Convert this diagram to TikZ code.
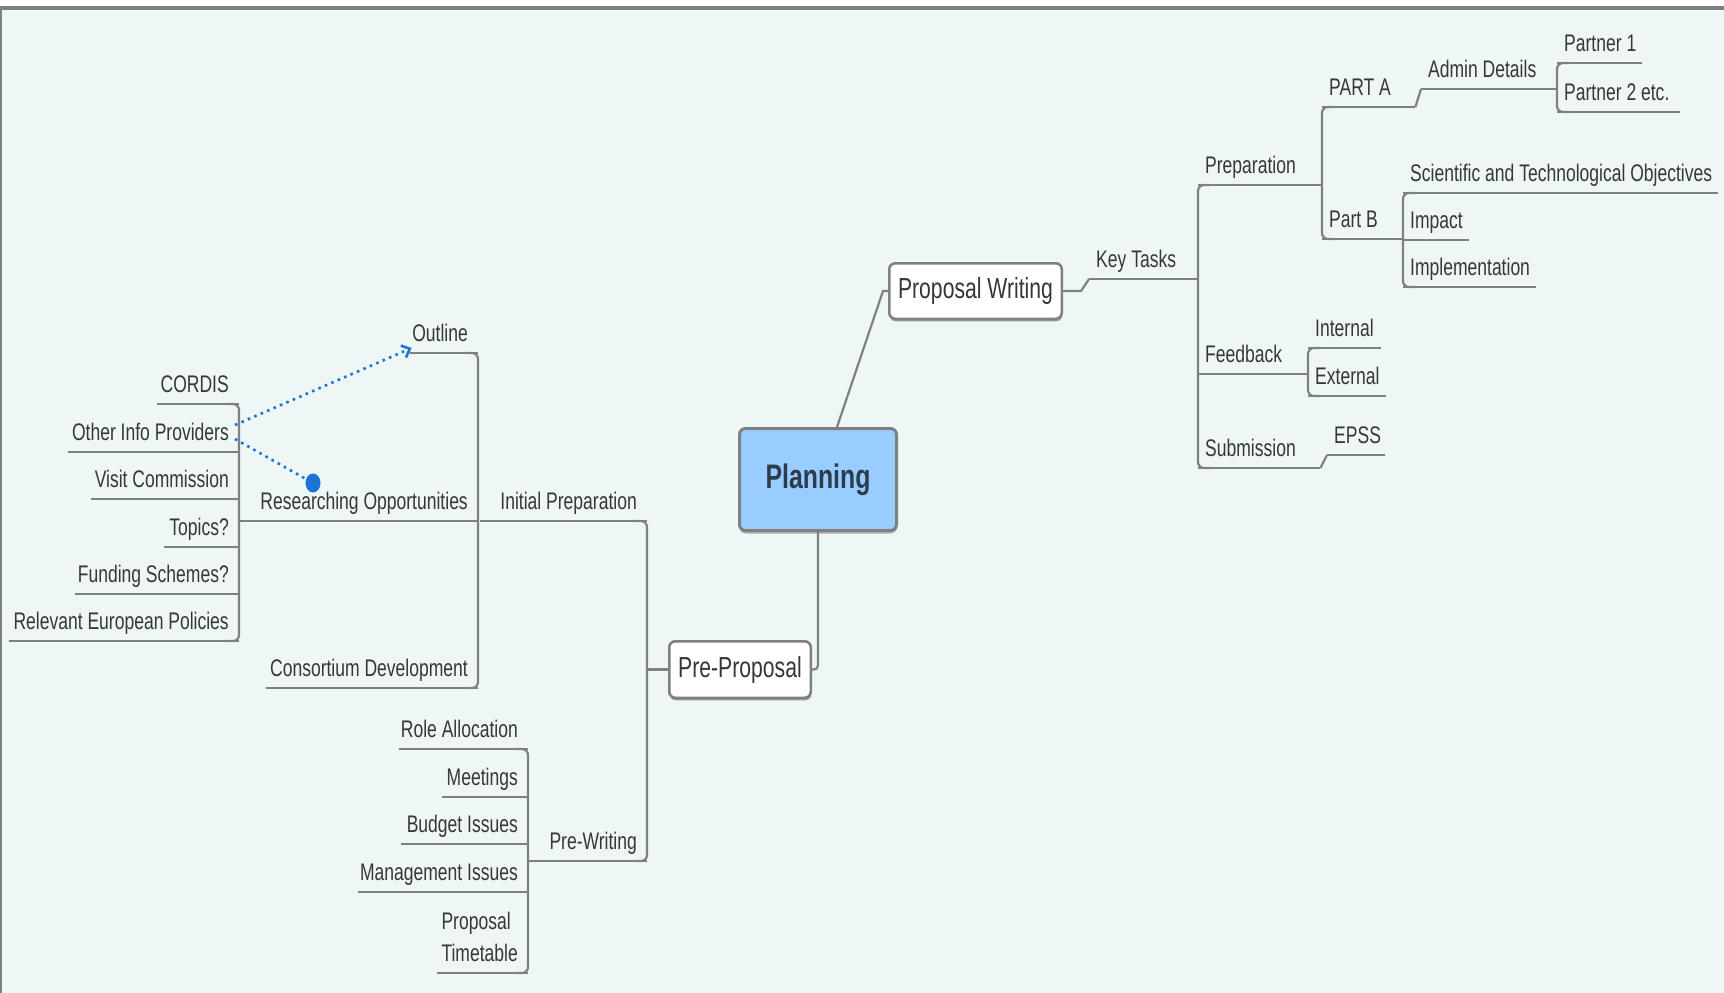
\documentclass[tikz,border=0pt]{standalone}
\usepackage{fontspec}
\setmainfont{Liberation Sans}[FakeStretch=0.73]
\usetikzlibrary{arrows.meta,shadows,shapes.geometric}

\definecolor{bgc}{RGB}{238,247,245}
\definecolor{lnc}{RGB}{128,128,128}
\definecolor{txc}{RGB}{55,55,55}
\definecolor{plc}{RGB}{153,204,255}
\definecolor{dtc}{RGB}{30,115,215}
\definecolor{ptc}{RGB}{45,60,75}

\newcommand\lblfont{\fontsize{24}{32}\selectfont}
\newcommand\boxfont{\fontsize{29}{34}\selectfont}
\newcommand\hubfont{\fontsize{34}{40}\selectfont\bfseries}

\tikzset{
  link/.style={draw=lnc, line width=2.2pt},
  uline/.style={draw=lnc, line width=2.8pt},
  dots/.style={draw=dtc, line width=2.6pt, dash pattern=on 2.6pt off 4.4pt},
  topic/.style={font=\lblfont, text=txc, inner sep=0pt, text height=17pt, text depth=11pt},
  % topic on the right-hand side: text starts just after the junction
  rt/.style={topic, anchor=south west,
    execute at begin node={\hbox to #1pt\bgroup\hskip7pt},
    execute at end node={\hss\egroup}},
  % topic on the left-hand side: text ends just before the junction
  lt/.style={topic, anchor=south east,
    execute at begin node={\hbox to #1pt\bgroup\hss},
    execute at end node={\hskip10pt\egroup}},
  box/.style={draw=lnc, line width=2.5pt, fill=white, rounded corners=6pt,
    font=\boxfont, text=txc, inner sep=0pt,
    drop shadow={shadow xshift=0.5pt, shadow yshift=-2.5pt, fill=lnc!80, opacity=1}},
  hub/.style={box, fill=plc, font=\hubfont, text=ptc, line width=3pt,
    drop shadow={shadow xshift=0pt, shadow yshift=-3pt, fill=lnc!60, opacity=1}},
}

\begin{document}
\begin{tikzpicture}[x=1pt,y=-1pt]
\useasboundingbox (0,0) rectangle (1724,993);

% canvas and frame
\fill[bgc] (0,0) rectangle (1724,993);
\fill[white] (0,0) rectangle (1724,6);
\fill[lnc] (0,6) rectangle (1724,10);
\fill[lnc] (0,6) rectangle (2,993);

% main boxes
\node[hub, minimum width=157pt, minimum height=102pt] (plan) at (818,479.5) {Planning};
\node[box, minimum width=172.5pt, minimum height=55.5pt] (pw) at (975.5,291) {Proposal Writing};
\node[box, minimum width=141.5pt, minimum height=56.5pt] (pp) at (740,669.5) {Pre-Proposal};

% right-hand branch: Proposal Writing
\node[rt=109] (kt) at (1089,279) {Key Tasks};
\node[rt=124] (prep) at (1198,185) {Preparation};
\node[rt=110] (feed) at (1198,374) {Feedback};
\node[rt=122] (subm) at (1198,468) {Submission};
\node[rt=58] (epss) at (1327,455) {EPSS};
\node[rt=73] (int) at (1308,348) {Internal};
\node[rt=78] (ext) at (1308,396) {External};
\node[rt=93] (parta) at (1322,107) {PART A};
\node[rt=81] (partb) at (1322,239) {Part B};
\node[rt=136] (admin) at (1421,89) {Admin Details};
\node[rt=85] (p1) at (1557,63) {Partner 1};
\node[rt=123] (p2) at (1557,112) {Partner 2 etc.};
\node[rt=315] (sci) at (1403,193) {Scientific and Technological Objectives};
\node[rt=66] (imp) at (1403,240) {Impact};
\node[rt=133] (impl) at (1403,287) {Implementation};

% left-hand branch: Pre-Proposal
\node[lt=167] (ip) at (647,521) {Initial Preparation};
\node[lt=119] (pwr) at (647,861) {Pre-Writing};
\node[lt=68] (ol) at (478,353) {Outline};
\node[lt=238] (ro) at (478,521) {Researching Opportunities};
\node[lt=212] (cd) at (478,688) {Consortium Development};
\node[lt=82] (cordis) at (239,404) {CORDIS};
\node[lt=171] (oip) at (239,452) {Other Info Providers};
\node[lt=148] (vc) at (239,499) {Visit Commission};
\node[lt=75] (top) at (239,547) {Topics?};
\node[lt=164] (fs) at (239,594) {Funding Schemes?};
\node[lt=230] (rep) at (239,641) {Relevant European Policies};
\node[lt=129] (ra) at (528,749) {Role Allocation};
\node[lt=86] (mt) at (528,797) {Meetings};
\node[lt=127] (bi) at (528,844) {Budget Issues};
\node[lt=170] (mi) at (528,892) {Management Issues};
\node[lt=91] (pt) at (528,973) {\vbox{\hbox{Proposal}\hbox{Timetable}}};

% underlines of the topics
\foreach \n in {kt,prep,feed,subm,epss,int,ext,parta,partb,admin,p1,p2,sci,imp,impl,
                ip,pwr,ol,ro,cd,cordis,oip,vc,top,fs,rep,ra,mt,bi,mi,pt}
  \draw[uline] (\n.south west) -- (\n.south east);

% connectors from the central topic
\draw[link] ([xshift=19pt]plan.north) -- ([xshift=-5pt]pw.west) -- (pw.west);
\draw[link, rounded corners=4pt] (plan.south) |- (pp.east);

% right-hand connectors
\draw[link] (pw.east) -- ++(18,0) -- (kt.south west);
\draw[link, rounded corners=6pt] ([xshift=12pt]prep.south west) -- (prep.south west)
  -- (subm.south west) -- ([xshift=12pt]subm.south west);
\draw[link, rounded corners=6pt] ([xshift=12pt]parta.south west) -- (parta.south west)
  -- (partb.south west) -- ([xshift=12pt]partb.south west);
\draw[link] (parta.south east) -- (admin.south west);
\draw[link, rounded corners=6pt] ([xshift=12pt]p1.south west) -- (p1.south west)
  -- (p2.south west) -- ([xshift=12pt]p2.south west);
\draw[link, rounded corners=6pt] ([xshift=12pt]sci.south west) -- (sci.south west)
  -- (impl.south west) -- ([xshift=12pt]impl.south west);
\draw[link, rounded corners=6pt] ([xshift=12pt]int.south west) -- (int.south west)
  -- (ext.south west) -- ([xshift=12pt]ext.south west);
\draw[link] (subm.south east) -- (epss.south west);

% left-hand connectors
\draw[link] (pp.west) -- (pp.west -| ip.south east);
\draw[link, rounded corners=6pt] ([xshift=-12pt]ip.south east) -- (ip.south east)
  -- (pwr.south east) -- ([xshift=-12pt]pwr.south east);
\draw[link, rounded corners=6pt] ([xshift=-12pt]ol.south east) -- (ol.south east)
  -- (cd.south east) -- ([xshift=-12pt]cd.south east);
\draw[link, rounded corners=6pt] ([xshift=-12pt]cordis.south east) -- (cordis.south east)
  -- (rep.south east) -- ([xshift=-12pt]rep.south east);
\draw[link, rounded corners=6pt] ([xshift=-12pt]ra.south east) -- (ra.south east)
  -- (pt.south east) -- ([xshift=-12pt]pt.south east);

% relationship links
\node[ellipse, fill=dtc, minimum width=15pt, minimum height=19pt, inner sep=0pt] (bd) at (313,483) {};
\draw[dots] ([shift={(-4pt,13pt)}]oip.south east) -- (bd);
\draw[dots, -{Straight Barb[length=7pt,width=13pt]}]
  ([shift={(-4pt,27pt)}]oip.south east) -- ([shift={(2pt,5pt)}]ol.south west);
\end{tikzpicture}
\end{document}
